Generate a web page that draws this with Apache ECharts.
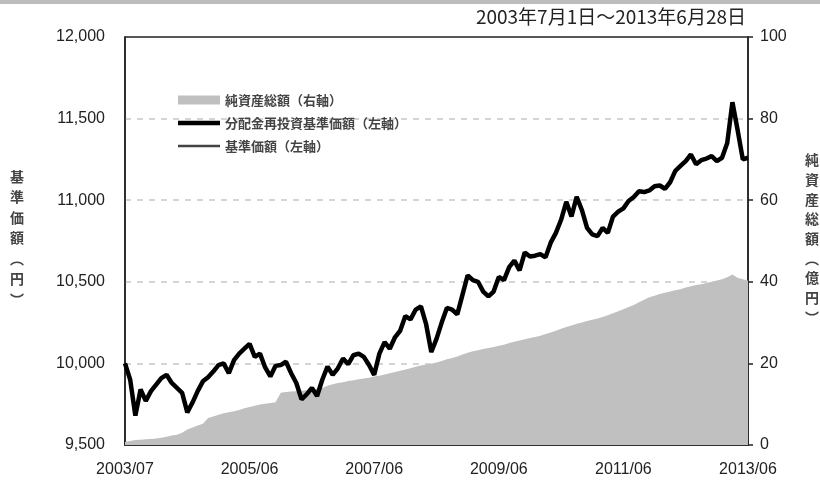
<!DOCTYPE html>
<html><head><meta charset="utf-8">
<script src="https://cdn.jsdelivr.net/npm/echarts@6/dist/echarts.min.js"></script>
<style>html,body{margin:0;padding:0;background:#fff}#c{width:820px;height:483px}</style>
</head><body><div id="c"></div>
<script>
const titleText = '2003年7月1日～2013年6月28日';
const leftAxisName = '基準価額（円）';
const rightAxisName = '純資産総額（億円）';
const seriesNames = ['純資産総額（右軸）', '分配金再投資基準価額（左軸）', '基準価額（左軸）'];
const tickIndex = [0, 24, 48, 72, 96, 120];
const tickLabels = ['2003/07', '2005/06', '2007/06', '2009/06', '2011/06', '2013/06'];

// monthly points from 2003/07 to 2013/06
const months = [];
for (let i = 0; i <= 120; i++) {
  const y = 2003 + Math.floor((6 + i) / 12), m = (6 + i) % 12 + 1;
  months.push(y + '/' + String(m).padStart(2, '0'));
}

const reinvestPrice = [
  10000, 9900, 9680, 9840, 9770, 9830, 9870, 9910, 9930, 9880,
  9850, 9820, 9700, 9760, 9830, 9890, 9915, 9950, 9990, 10000,
  9940, 10020, 10060, 10090, 10120, 10040, 10060, 9975, 9920, 9985,
  9990, 10010, 9940, 9880, 9780, 9810, 9850, 9800, 9900, 9980,
  9930, 9970, 10030, 9995, 10050, 10060, 10040, 9990, 9930, 10060,
  10130, 10090, 10160, 10200, 10290, 10270, 10330, 10350, 10240, 10070,
  10150, 10250, 10340, 10330, 10300, 10420, 10540, 10510, 10500, 10440,
  10410, 10440, 10530, 10510, 10590, 10630, 10570, 10680, 10655, 10660,
  10670, 10650, 10740, 10800, 10880, 10990, 10900, 11020, 10940, 10830,
  10790, 10780, 10830, 10800, 10900, 10930, 10950, 10995, 11020, 11055,
  11050, 11060, 11085, 11090, 11070, 11110, 11180, 11210, 11240, 11280,
  11220, 11245, 11255, 11270, 11240, 11260, 11350, 11600, 11430, 11250,
  11260
];
const basePrice = reinvestPrice;

const netAssets = [
  0.8, 1.0, 1.2, 1.3, 1.4, 1.5, 1.6, 1.8, 2.0, 2.3,
  2.5, 3.0, 3.8, 4.3, 4.8, 5.2, 6.6, 7.0, 7.4, 7.8,
  8.0, 8.3, 8.6, 9.0, 9.3, 9.6, 9.9, 10.1, 10.3, 10.5,
  12.8, 13.0, 13.1, 13.2, 13.3, 13.4, 13.6, 13.8, 14.0, 14.5,
  14.9, 15.2, 15.4, 15.7, 15.9, 16.1, 16.3, 16.5, 16.8, 17.0,
  17.3, 17.6, 17.9, 18.2, 18.5, 18.8, 19.2, 19.5, 19.7, 19.9,
  20.2, 20.6, 21.0, 21.3, 21.7, 22.2, 22.6, 23.0, 23.2, 23.5,
  23.8, 24.0, 24.3, 24.6, 25.0, 25.3, 25.6, 25.9, 26.2, 26.5,
  26.8, 27.2, 27.6, 28.0, 28.5, 28.9, 29.3, 29.7, 30.0, 30.4,
  30.7, 31.0, 31.4, 31.8, 32.3, 32.8, 33.3, 33.8, 34.3, 35.0,
  35.6, 36.2, 36.6, 37.0, 37.3, 37.6, 37.9, 38.2, 38.6, 38.9,
  39.2, 39.4, 39.7, 40.0, 40.3, 40.6, 41.1, 41.8, 41.0, 40.6,
  40.3
];

const FONT = "'Liberation Sans', 'Noto Sans CJK JP', sans-serif";
const JP = "'Noto Sans CJK JP', sans-serif";
const chart = echarts.init(document.getElementById('c'), null, {renderer: 'canvas'});
const showTick = (idx) => tickIndex.indexOf(idx) >= 0;
const vertical = s => s.split('').map(c => c === '（' ? '︵' : c === '）' ? '︶' : c).join('\n');

chart.setOption({
  animation: false,
  backgroundColor: '#fff',
  textStyle: {fontFamily: FONT},
  graphic: [
    {type: 'rect', shape: {x: 0, y: 0, width: 820, height: 4}, style: {fill: '#bdbdbd'}},
    {type: 'text', right: 74, top: 7, style: {text: titleText, font: '19px ' + JP, fill: '#222'}},
    {type: 'text', left: 10, top: 166, style: {text: vertical(leftAxisName), font: 'bold 14px ' + JP, lineHeight: 20.5, fill: '#444', align: 'left'}},
    {type: 'text', left: 805, top: 150, style: {text: vertical(rightAxisName), font: 'bold 14px ' + JP, lineHeight: 19.7, fill: '#444', align: 'left'}}
  ],
  grid: {left: 125, right: 72, top: 37, bottom: 38, show: true, borderColor: '#222', borderWidth: 1.5, backgroundColor: 'transparent'},
  legend: {
    orient: 'vertical', left: 173, top: 88, itemWidth: 42, itemHeight: 9, itemGap: 9,
    textStyle: {fontFamily: JP, fontSize: 13, color: '#444', fontWeight: 'bold', lineHeight: 14},
    data: [
      {name: seriesNames[0], icon: 'rect'},
      {name: seriesNames[1], icon: 'path://M0,0 L42,0 L42,4.5 L0,4.5 Z'},
      {name: seriesNames[2], icon: 'path://M0,0 L42,0 L42,2.5 L0,2.5 Z'}
    ]
  },
  xAxis: {
    type: 'category', data: months, boundaryGap: false,
    axisLine: {lineStyle: {color: '#222', width: 1.5}},
    axisTick: {inside: true, length: 5, interval: showTick, lineStyle: {color: '#222', width: 1.5}},
    axisLabel: {interval: showTick, color: '#222', fontSize: 16, margin: 17,
      formatter: (v, i) => tickLabels[tickIndex.indexOf(i)] || ''},
    splitLine: {show: false}
  },
  yAxis: [
    {type: 'value', min: 9500, max: 12000, interval: 500,
      axisLine: {show: true, lineStyle: {color: '#222', width: 1.5}},
      axisTick: {show: false},
      axisLabel: {color: '#222', fontSize: 16, margin: 20, formatter: v => v.toLocaleString('en-US')},
      splitLine: {show: true, showMinLine: false, showMaxLine: false, lineStyle: {color: '#c8c8c8', type: [6, 6], width: 1.5}}},
    {type: 'value', min: 0, max: 100, interval: 20,
      axisLine: {show: true, lineStyle: {color: '#222', width: 1.5}},
      axisTick: {show: true, length: 5, lineStyle: {color: '#222', width: 1.5}},
      axisLabel: {color: '#222', fontSize: 16, margin: 12},
      splitLine: {show: false}}
  ],
  series: [
    {name: seriesNames[0], type: 'line', yAxisIndex: 1, data: netAssets, symbol: 'none',
      lineStyle: {width: 0, color: '#c0c0c0'}, itemStyle: {color: '#c0c0c0'},
      areaStyle: {color: '#c0c0c0', opacity: 1}, z: 1},
    {name: seriesNames[2], type: 'line', yAxisIndex: 0, data: basePrice, symbol: 'none',
      lineStyle: {width: 2.5, color: '#444'}, itemStyle: {color: '#444'}, z: 2},
    {name: seriesNames[1], type: 'line', yAxisIndex: 0, data: reinvestPrice, symbol: 'none',
      lineStyle: {width: 4.5, color: '#000'}, itemStyle: {color: '#000'}, z: 3}
  ]
});
</script></body></html>
